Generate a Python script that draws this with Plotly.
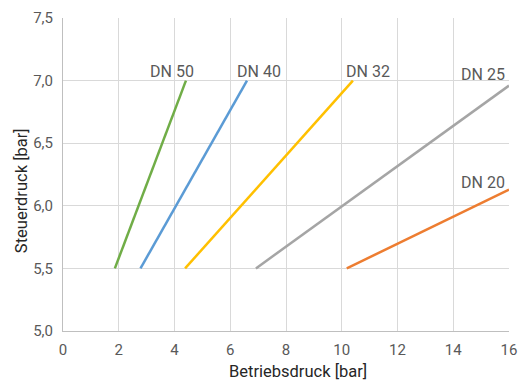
import plotly.graph_objects as go

series_names = ["DN 50", "DN 40", "DN 32", "DN 25", "DN 20"]
x_values = [[1.86, 4.41], [2.78, 6.6], [4.38, 10.4], [6.92, 16.0], [10.18, 16.0]]
y_values = [[5.5, 7.0], [5.5, 7.0], [5.5, 7.0], [5.5, 6.96], [5.5, 6.13]]
colors = ["#70AD47", "#5B9BD5", "#FFC000", "#A5A5A5", "#ED7D31"]
label_x = [3.9, 7.03, 10.93, 15.92, 15.92]
label_y = [7.07, 7.07, 7.07, 7.05, 6.19]
label_anchor = ["center", "center", "center", "right", "right"]

x_title = "Betriebsdruck [bar]"
y_title = "Steuerdruck [bar]"
x_ticks = [0, 2, 4, 6, 8, 10, 12, 14, 16]
y_ticks = [5.0, 5.5, 6.0, 6.5, 7.0, 7.5]

fig = go.Figure()
for name, xs, ys, c in zip(series_names, x_values, y_values, colors):
    fig.add_trace(go.Scatter(x=xs, y=ys, mode="lines", name=name,
                             line=dict(color=c, width=2.5)))

for name, lx, ly, a in zip(series_names, label_x, label_y, label_anchor):
    fig.add_annotation(x=lx, y=ly, text=name, showarrow=False, xanchor=a,
                       yanchor="middle", font=dict(size=16, color="#595959"))

fig.add_annotation(x=0.526, y=-0.128, xref="paper", yref="paper", text=x_title,
                   showarrow=False, xanchor="center", yanchor="middle",
                   font=dict(size=16.5, color="#262626"))
fig.add_annotation(x=-0.0926, y=0.449, xref="paper", yref="paper", text=y_title,
                   showarrow=False, xanchor="center", yanchor="middle", textangle=-90,
                   font=dict(size=16.5, color="#262626"))

fig.update_layout(
    width=521, height=381,
    margin=dict(l=63, r=12, t=18, b=50),
    paper_bgcolor="white", plot_bgcolor="white",
    showlegend=False,
    separators=",.",
    font=dict(family="Roboto", color="#595959", size=14),
    xaxis=dict(range=[0, 16], tickvals=x_ticks, showgrid=True, gridcolor="#D9D9D9",
               gridwidth=1, zeroline=False, showline=True, linecolor="#BFBFBF",
               automargin=False, ticks="", ticklabelstandoff=5,
               tickfont=dict(size=15, color="#595959"), mirror=False),
    yaxis=dict(range=[5.0, 7.5], tickvals=y_ticks, tickformat=".1f", showgrid=True,
               gridcolor="#D9D9D9", gridwidth=1, zeroline=False, showline=True,
               linecolor="#BFBFBF", automargin=False, ticks="", ticklabelstandoff=6,
               tickfont=dict(size=15, color="#595959")),
)

fig.write_html("out.html", config={"displayModeBar": False})

with open("out.html", "r", encoding="utf-8") as f:
    html = f.read()
html = html.replace("<head>", "<head><style>html,body{margin:0;padding:0;overflow:hidden;}</style>", 1)
with open("out.html", "w", encoding="utf-8") as f:
    f.write(html)
